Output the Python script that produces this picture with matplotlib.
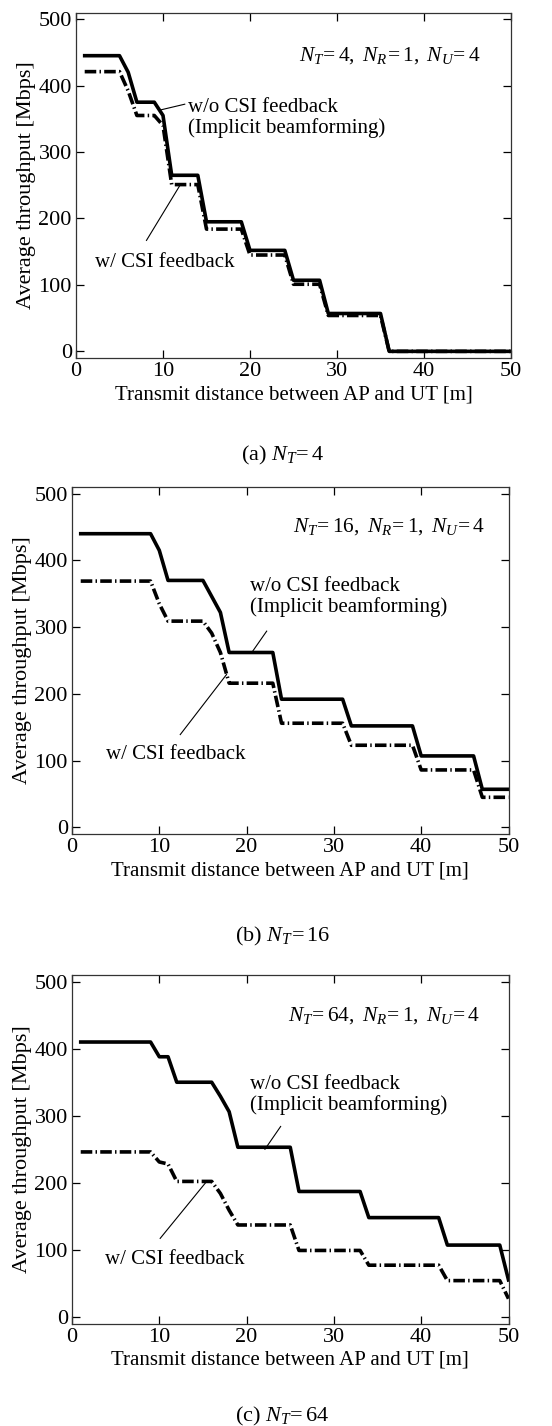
import matplotlib
matplotlib.use("Agg")
import matplotlib.pyplot as plt
import numpy as np

plt.rcParams['font.family'] = ['Liberation Serif', 'DejaVu Serif']
plt.rcParams['mathtext.fontset'] = 'custom'
plt.rcParams['mathtext.rm'] = 'Liberation Serif'
plt.rcParams['mathtext.it'] = 'Liberation Serif:italic'

# distance samples [m]
distance = np.arange(1, 51)

# (a) N_T = 4
nt4_wo = [445, 445, 445, 445, 445, 420, 375, 375, 375, 355,
          265, 265, 265, 265, 195, 195, 195, 195, 195, 152,
          152, 152, 152, 152, 107, 107, 107, 107, 57, 57,
          57, 57, 57, 57, 57, 0, 0, 0, 0, 0,
          0, 0, 0, 0, 0, 0, 0, 0, 0, 0]
nt4_w = [421, 421, 421, 421, 421, 392, 355, 355, 355, 340,
         251, 251, 251, 251, 184, 184, 184, 184, 184, 145,
         145, 145, 145, 145, 101, 101, 101, 101, 54, 54,
         54, 54, 54, 54, 54, 0, 0, 0, 0, 0,
         0, 0, 0, 0, 0, 0, 0, 0, 0, 0]

# (b) N_T = 16
nt16_wo = [440, 440, 440, 440, 440, 440, 440, 440, 440, 415,
           370, 370, 370, 370, 370, 346, 322, 262, 262, 262,
           262, 262, 262, 192, 192, 192, 192, 192, 192, 192,
           192, 152, 152, 152, 152, 152, 152, 152, 152, 107,
           107, 107, 107, 107, 107, 107, 57, 57, 57, 57]
nt16_w = [369, 369, 369, 369, 369, 369, 369, 369, 369, 335,
          309, 309, 309, 309, 309, 291, 262, 216, 216, 216,
          216, 216, 216, 156, 156, 156, 156, 156, 156, 156,
          156, 123, 123, 123, 123, 123, 123, 123, 123, 86,
          86, 86, 86, 86, 86, 86, 45, 45, 45, 45]

# (c) N_T = 64
nt64_wo = [410, 410, 410, 410, 410, 410, 410, 410, 410, 388,
           388, 350, 350, 350, 350, 350, 329, 306, 253, 253,
           253, 253, 253, 253, 253, 187, 187, 187, 187, 187,
           187, 187, 187, 148, 148, 148, 148, 148, 148, 148,
           148, 148, 107, 107, 107, 107, 107, 107, 107, 55]
nt64_w = [246, 246, 246, 246, 246, 246, 246, 246, 246, 231,
          228, 202, 202, 202, 202, 202, 184, 159, 137, 137,
          137, 137, 137, 137, 137, 99, 99, 99, 99, 99,
          99, 99, 99, 77, 77, 77, 77, 77, 77, 77,
          77, 77, 54, 54, 54, 54, 54, 54, 54, 27]

params = [r"$N_T\!=4,\ N_R\!=1,\ N_U\!=4$",
          r"$N_T\!=16,\ N_R\!=1,\ N_U\!=4$",
          r"$N_T\!=64,\ N_R\!=1,\ N_U\!=4$"]
captions = [r"(a) $N_T\!=4$", r"(b) $N_T\!=16$", r"(c) $N_T\!=64$"]

W, H = 552, 1426
fig = plt.figure(figsize=(W / 100, H / 100), dpi=100)

# axes boxes in pixels: left, top, right, bottom
boxes = [(76, 12.5, 511, 358), (72, 487, 508.5, 834), (72, 975, 508.5, 1323.5)]
series = [(nt4_wo, nt4_w), (nt16_wo, nt16_w), (nt64_wo, nt64_w)]
# annotation positions (data coords)
wo_text = [(12.9, 351), (20.4, 345), (20.4, 331)]
wo_line = [((12.5, 372), (9.6, 363)), ((22.3, 294), (20.7, 264)), ((23.9, 284), (22.1, 250))]
w_text = [(2.2, 134), (3.9, 109), (3.8, 85)]
w_line = [((8.1, 167), (12.0, 251)), ((12.4, 139), (17.7, 229)), ((10.1, 117), (15.3, 200))]
param_pos = [(46.5, 445), (47.3, 451), (46.8, 449)]

for i, (l, t, r, b) in enumerate(boxes):
    ax = fig.add_axes([l / W, 1 - b / H, (r - l) / W, (b - t) / H])
    wo, w = series[i]
    ax.plot(distance, w, color='black', lw=2.6,
            dashes=(3.2, 0.9, 0.4, 0.9), solid_capstyle='butt')
    ax.plot(distance, wo, color='black', lw=2.6)
    ax.set_xlim(0, 50)
    ax.set_ylim(-10, 510)
    ax.set_xticks([0, 10, 20, 30, 40, 50])
    ax.set_yticks([0, 100, 200, 300, 400, 500])
    ax.tick_params(direction='in', top=True, right=True, length=6,
                   width=0.9, labelsize=16, pad=3)
    for sp in ax.spines.values():
        sp.set_linewidth(0.9)
        sp.set_color('#333333')
    ax.set_xlabel("Transmit distance between AP and UT [m]", fontsize=15, labelpad=3)
    ax.set_ylabel("Average throughput [Mbps]", fontsize=16, labelpad=2)

    ax.text(*param_pos[i], params[i], fontsize=15.5, ha='right', va='center')
    ax.text(*wo_text[i], "w/o CSI feedback\n(Implicit beamforming)", fontsize=15,
            ha='left', va='center', linespacing=1.1)
    ax.text(*w_text[i], "w/ CSI feedback", fontsize=15, ha='left', va='center')
    (x0, y0), (x1, y1) = wo_line[i]
    ax.plot([x0, x1], [y0, y1], color='black', lw=0.8)
    (x0, y0), (x1, y1) = w_line[i]
    ax.plot([x0, x1], [y0, y1], color='black', lw=0.8)

cap_y = [460, 941, 1421]
for i in range(3):
    fig.text(0.512, 1 - cap_y[i] / H, captions[i], fontsize=16, ha='center', va='baseline')

fig.savefig("out.png", dpi=100)
